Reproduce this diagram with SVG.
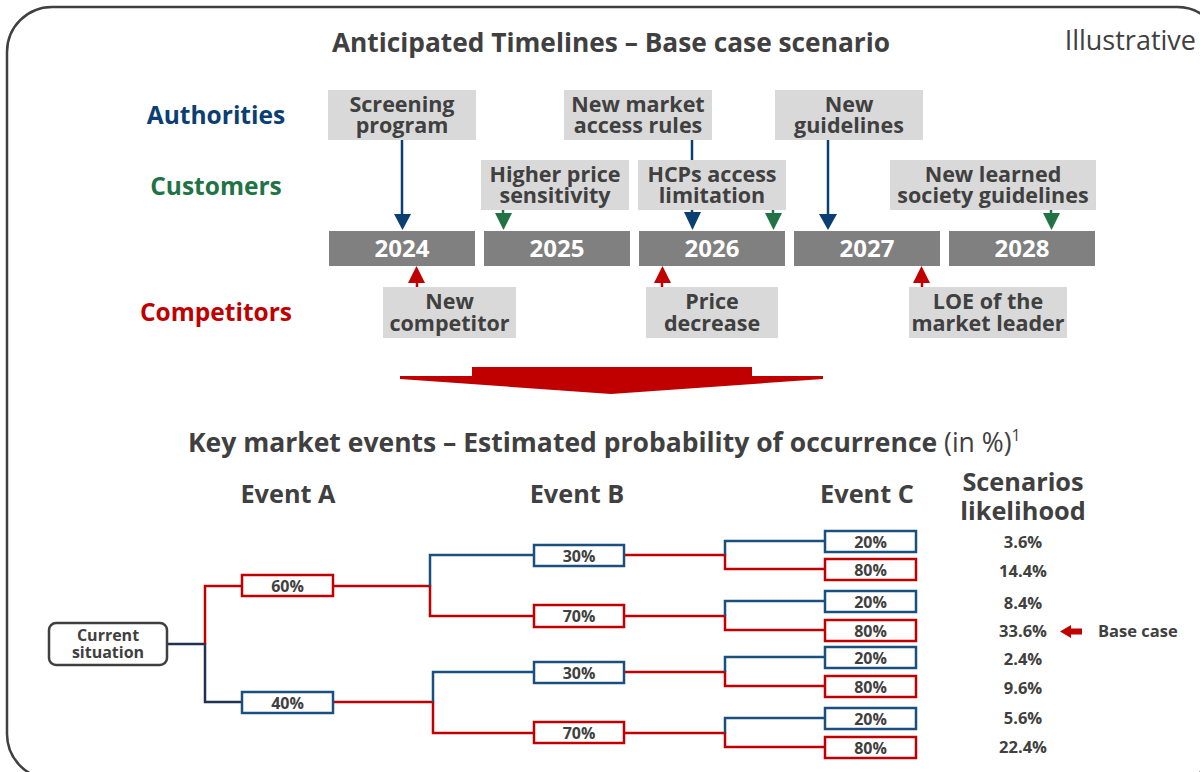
<svg xmlns="http://www.w3.org/2000/svg" width="1200" height="772" viewBox="0 0 1200 772">
<defs>
<style>
text{font-family:"Open Sans",Lato,"Liberation Sans",sans-serif;font-weight:700;fill:#404040}
.t{font-size:26.3px}
.row{font-size:24.5px;text-anchor:middle}
.ev{font-size:25.3px;text-anchor:middle}
.lbl{font-size:21.5px;text-anchor:middle}
.yr{font-size:24px;text-anchor:middle;fill:#ffffff}
.gbox{fill:#d9d9d9}
.ybar{fill:#808080}
.pb{fill:#fff;stroke:#1b4f80;stroke-width:2.5}
.pr{fill:#fff;stroke:#c00000;stroke-width:2.5}
.pt{font-size:16px;text-anchor:middle}
.lk{font-size:16.5px;text-anchor:middle}
.lb{fill:none;stroke:#1b4f80;stroke-width:2.5}
.lr{fill:none;stroke:#c00000;stroke-width:2.5}
.ln{fill:none;stroke:#1f3350;stroke-width:2.5}
.ab{stroke:#0b3e73;stroke-width:2.5}
.ag{stroke:#217346;stroke-width:2.5}
.ar{stroke:#c00000;stroke-width:2.5}
</style>
</defs>

<rect x="7" y="7" width="1215" height="772" rx="45" ry="45" fill="none" stroke="#404040" stroke-width="2.5"/>

<text class="t" x="611" y="52" text-anchor="middle">Anticipated Timelines – Base case scenario</text>
<text x="1196" y="50" text-anchor="end" style="font-size:27px;font-weight:400;fill:#404040">Illustrative</text>

<text class="row" x="216" y="124" style="fill:#0b3e73">Authorities</text>
<text class="row" x="216" y="195" style="fill:#217346">Customers</text>
<text class="row" x="216" y="321" style="fill:#c00000">Competitors</text>

<g id="connectors-timeline">
<line class="ab" x1="402" y1="140" x2="402" y2="216"/>
<polygon points="394,214 411,214 402.5,230" fill="#0b3e73"/>
<line class="ab" x1="692" y1="140" x2="692" y2="216"/>
<polygon points="684,212 701,212 692.5,230" fill="#0b3e73"/>
<line class="ab" x1="828" y1="140" x2="828" y2="216"/>
<polygon points="819,214 837,214 828,230" fill="#0b3e73"/>
<line class="ag" x1="503" y1="210" x2="503" y2="216"/>
<polygon points="495,213 512,213 503.5,230" fill="#217346"/>
<line class="ag" x1="773" y1="210" x2="773" y2="216"/>
<polygon points="765,213 782,213 773.5,230" fill="#217346"/>
<line class="ag" x1="1051" y1="210" x2="1051" y2="216"/>
<polygon points="1043,213 1060,213 1051.5,230" fill="#217346"/>
<line class="ar" x1="417" y1="287" x2="417" y2="280"/>
<polygon points="408,283 425,283 416.5,266" fill="#c00000"/>
<line class="ar" x1="662" y1="287" x2="662" y2="280"/>
<polygon points="654,283 671,283 662.5,266" fill="#c00000"/>
<line class="ar" x1="922" y1="287" x2="922" y2="280"/>
<polygon points="913,283 930,283 921.5,266" fill="#c00000"/>
</g>

<g id="n-screening"><rect class="gbox" x="328" y="90" width="148" height="50"/><text class="lbl" x="402" y="112">Screening</text><text class="lbl" x="402" y="133">program</text></g>
<g id="n-marketaccess"><rect class="gbox" x="564" y="90" width="148" height="50"/><text class="lbl" x="638" y="112">New market</text><text class="lbl" x="638" y="133">access rules</text></g>
<g id="n-guidelines"><rect class="gbox" x="775" y="90" width="148" height="50"/><text class="lbl" x="849" y="112">New</text><text class="lbl" x="849" y="133">guidelines</text></g>
<g id="n-price-sens"><rect class="gbox" x="481" y="160" width="148" height="50"/><text class="lbl" x="555" y="182">Higher price</text><text class="lbl" x="555" y="203">sensitivity</text></g>
<g id="n-hcps"><rect class="gbox" x="638" y="160" width="148" height="50"/><text class="lbl" x="712" y="182">HCPs access</text><text class="lbl" x="712" y="203">limitation</text></g>
<g id="n-learned"><rect class="gbox" x="890" y="160" width="206" height="50"/><text class="lbl" x="993" y="182">New learned</text><text class="lbl" x="993" y="203">society guidelines</text></g>
<g id="n-competitor"><rect class="gbox" x="383" y="287" width="133" height="51"/><text class="lbl" x="449.5" y="309">New</text><text class="lbl" x="449.5" y="331">competitor</text></g>
<g id="n-pricedec"><rect class="gbox" x="646" y="287" width="132" height="51"/><text class="lbl" x="712" y="309">Price</text><text class="lbl" x="712" y="331">decrease</text></g>
<g id="n-loe"><rect class="gbox" x="909" y="287" width="158" height="51"/><text class="lbl" x="988" y="309">LOE of the</text><text class="lbl" x="988" y="331">market leader</text></g>

<g id="n-2024"><rect class="ybar" x="329" y="231" width="146" height="35"/><text class="yr" x="402" y="257">2024</text></g>
<g id="n-2025"><rect class="ybar" x="484" y="231" width="146" height="35"/><text class="yr" x="557" y="257">2025</text></g>
<g id="n-2026"><rect class="ybar" x="639" y="231" width="146" height="35"/><text class="yr" x="712" y="257">2026</text></g>
<g id="n-2027"><rect class="ybar" x="794" y="231" width="146" height="35"/><text class="yr" x="867" y="257">2027</text></g>
<g id="n-2028"><rect class="ybar" x="949" y="231" width="146" height="35"/><text class="yr" x="1022" y="257">2028</text></g>

<polygon id="big-arrow" points="472,367 752,367 752,376 823,376 823,379 611,394 400,379 400,376 472,376" fill="#c00000"/>

<text class="t" x="188" y="452" style="font-size:26.5px">Key market events – Estimated probability of occurrence <tspan style="font-weight:400">(in %)</tspan><tspan style="font-weight:400;font-size:16px" dy="-11">1</tspan></text>

<text class="ev" x="288" y="503">Event A</text>
<text class="ev" x="577" y="503">Event B</text>
<text class="ev" x="867" y="503">Event C</text>
<text class="ev" x="1023" y="491">Scenarios</text>
<text class="ev" x="1023" y="520">likelihood</text>

<g id="connectors-tree">
<path class="ln" d="M167,644 H205 V702 H242"/>
<path class="lr" d="M205,644 V586 H242"/>
<path class="lr" d="M333,586 H430 V616 H534"/>
<path class="lb" d="M430,586 V555 H534"/>
<path class="lr" d="M333,702 H433 V733 H534"/>
<path class="lb" d="M433,702 V672 H534"/>
<path class="lr" d="M624,555 H725 V569 H825"/>
<path class="lb" d="M725,555 V541 H825"/>
<path class="lr" d="M624,616 H725 V630 H825"/>
<path class="lb" d="M725,616 V601 H825"/>
<path class="lr" d="M624,672 H725 V686 H825"/>
<path class="lb" d="M725,672 V657 H825"/>
<path class="lr" d="M624,733 H725 V747 H825"/>
<path class="lb" d="M725,733 V718 H825"/>
</g>

<g id="n-current"><rect x="49" y="623" width="118" height="42" rx="7" fill="#fff" stroke="#404040" stroke-width="2.5"/><text class="pt" x="108" y="641">Current</text><text class="pt" x="108" y="658">situation</text></g>
<g id="n-a60"><rect class="pr" x="242" y="575" width="91" height="21"/><text class="pt" x="287.5" y="591.5">60%</text></g>
<g id="n-a40"><rect class="pb" x="242" y="692" width="91" height="21"/><text class="pt" x="287.5" y="708.5">40%</text></g>
<g id="n-b30a"><rect class="pb" x="534" y="545" width="90" height="21"/><text class="pt" x="579" y="561.5">30%</text></g>
<g id="n-b70a"><rect class="pr" x="534" y="605" width="90" height="22"/><text class="pt" x="579" y="622">70%</text></g>
<g id="n-b30b"><rect class="pb" x="534" y="662" width="90" height="21"/><text class="pt" x="579" y="678.5">30%</text></g>
<g id="n-b70b"><rect class="pr" x="534" y="722" width="90" height="21"/><text class="pt" x="579" y="738.5">70%</text></g>
<g id="n-c1"><rect class="pb" x="825" y="531" width="91" height="21"/><text class="pt" x="870.5" y="547.5">20%</text></g>
<g id="n-c2"><rect class="pr" x="825" y="559" width="91" height="21"/><text class="pt" x="870.5" y="575.5">80%</text></g>
<g id="n-c3"><rect class="pb" x="825" y="591" width="91" height="21"/><text class="pt" x="870.5" y="607.5">20%</text></g>
<g id="n-c4"><rect class="pr" x="825" y="620" width="91" height="21"/><text class="pt" x="870.5" y="636.5">80%</text></g>
<g id="n-c5"><rect class="pb" x="825" y="647" width="91" height="21"/><text class="pt" x="870.5" y="663.5">20%</text></g>
<g id="n-c6"><rect class="pr" x="825" y="676" width="91" height="21"/><text class="pt" x="870.5" y="692.5">80%</text></g>
<g id="n-c7"><rect class="pb" x="825" y="708" width="91" height="21"/><text class="pt" x="870.5" y="724.5">20%</text></g>
<g id="n-c8"><rect class="pr" x="825" y="737" width="91" height="21"/><text class="pt" x="870.5" y="753.5">80%</text></g>

<g id="likelihood">
<text class="lk" x="1023" y="548">3.6%</text>
<text class="lk" x="1023" y="577">14.4%</text>
<text class="lk" x="1023" y="609">8.4%</text>
<text class="lk" x="1023" y="637">33.6%</text>
<text class="lk" x="1023" y="665">2.4%</text>
<text class="lk" x="1023" y="694">9.6%</text>
<text class="lk" x="1023" y="724">5.6%</text>
<text class="lk" x="1023" y="753">22.4%</text>
</g>
<g id="base-case">
<polygon points="1060,631.5 1071,625 1071,628.5 1082,628.5 1082,634.5 1071,634.5 1071,638" fill="#c00000"/>
<text x="1098" y="637" style="font-size:16.5px">Base case</text>
</g>
</svg>
